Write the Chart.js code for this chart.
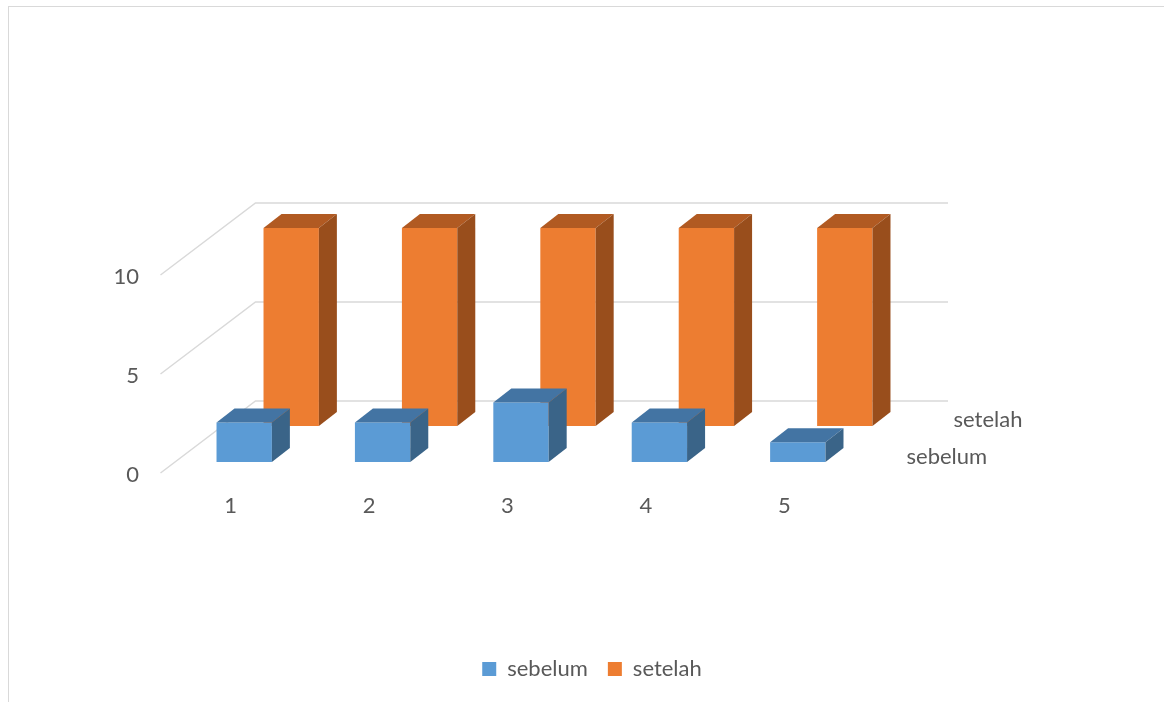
<!DOCTYPE html>
<html>
<head>
<meta charset="utf-8">
<title>sebelum / setelah</title>
<script src="https://cdn.jsdelivr.net/npm/chart.js@4.4.1/dist/chart.umd.min.js"></script>
<style>
  html, body { margin: 0; padding: 0; background: #fff; overflow: hidden; }
  #frame {
    position: absolute; left: 8px; top: 6px;
    width: 1200px; height: 740px;
    border: 1.5px solid #d9d9d9;
  }
  #wrap { position: absolute; left: 0; top: 0; width: 1164px; height: 702px; }
</style>
</head>
<body>
<div id="frame"></div>
<div id="wrap"><canvas id="chart" width="1164" height="702"></canvas></div>
<script>
const categories = ["1", "2", "3", "4", "5"];
const sebelum = [2, 2, 3, 2, 1];
const setelah = [10, 10, 10, 10, 10];
const yTicks = [0, 5, 10];

const FONT = "Lato, 'Open Sans', sans-serif";
const TEXT = "#595959";

// how far each series sits behind the front row (pixels)
const seriesShift = [
  { dx: 0, dy: 0 },
  { dx: 47, dy: -36 },
];
const faceDepth = { dx: 18, dy: -14 };   // depth of a single column
const floorFront = { dx: -14.5, dy: 11 }; // front edge of floor vs first row
const wallBack = { dx: 80.5, dy: -61 };   // back wall vs first row

const faceColors = [
  { top: "#4374a3", side: "#3a6488" },
  { top: "#b15a22", side: "#994e1c" },
];

const box3d = {
  id: "box3d",
  beforeDatasetsDraw(chart) {
    const { ctx, chartArea, scales } = chart;
    ctx.save();
    ctx.strokeStyle = "#d9d9d9";
    ctx.lineWidth = 1.5;
    yTicks.forEach((v) => {
      const yp = scales.y.getPixelForValue(v);
      const fx = chartArea.left + floorFront.dx;
      const fy = yp + floorFront.dy;
      const bx = chartArea.left + wallBack.dx;
      const by = yp + wallBack.dy;
      ctx.beginPath();
      ctx.moveTo(fx, fy);
      ctx.lineTo(bx, by);
      ctx.lineTo(chartArea.right + 81, by);
      ctx.stroke();
    });

    // series names along the depth axis
    const y0 = scales.y.getPixelForValue(0);
    ctx.fillStyle = TEXT;
    ctx.font = "22px " + FONT;
    ctx.textAlign = "left";
    ctx.textBaseline = "middle";
    chart.data.datasets.forEach((ds, i) => {
      const s = seriesShift[i];
      ctx.fillText(ds.label, chartArea.right + 39.5 + s.dx, y0 - 5 + s.dy * 1.03);
    });
    ctx.restore();
  },
  beforeDatasetDraw(chart, args) {
    const s = seriesShift[args.index];
    chart.ctx.save();
    chart.ctx.translate(s.dx, s.dy);
  },
  afterDatasetDraw(chart, args) {
    const ctx = chart.ctx;
    const c = faceColors[args.index];
    const { dx, dy } = faceDepth;
    args.meta.data.forEach((bar) => {
      const p = bar.getProps(["x", "y", "base", "width"], true);
      const l = p.x - p.width / 2;
      const r = p.x + p.width / 2;
      // top face
      ctx.fillStyle = c.top;
      ctx.beginPath();
      ctx.moveTo(l, p.y);
      ctx.lineTo(r, p.y);
      ctx.lineTo(r + dx, p.y + dy);
      ctx.lineTo(l + dx, p.y + dy);
      ctx.closePath();
      ctx.fill();
      // right side face
      ctx.fillStyle = c.side;
      ctx.beginPath();
      ctx.moveTo(r, p.y);
      ctx.lineTo(r, p.base);
      ctx.lineTo(r + dx, p.base + dy);
      ctx.lineTo(r + dx, p.y + dy);
      ctx.closePath();
      ctx.fill();
    });
    ctx.restore();
  },
};

new Chart(document.getElementById("chart"), {
  type: "bar",
  data: {
    labels: categories,
    datasets: [
      {
        label: "sebelum",
        data: sebelum,
        backgroundColor: "#5b9bd5",
      },
      {
        label: "setelah",
        data: setelah,
        backgroundColor: "#ed7d31",
      },
    ],
  },
  options: {
    responsive: false,
    animation: false,
    grouped: false,
    clip: false,
    barPercentage: 0.4,
    categoryPercentage: 1.0,
    layout: {
      padding: { top: 264, right: 0, bottom: 12, left: 20 },
    },
    scales: {
      x: {
        grid: { display: false, drawTicks: false },
        border: { display: false },
        ticks: {
          padding: 31,
          labelOffset: -13.5,
          color: TEXT,
          font: { family: FONT, size: 22 },
        },
        afterFit: (s) => { s.height = 176; },
      },
      y: {
        min: 0,
        max: 10,
        grid: { display: false, drawTicks: false },
        border: { display: false },
        ticks: {
          stepSize: 5,
          padding: 36,
          labelOffset: 13,
          color: TEXT,
          font: { family: FONT, size: 22 },
        },
        afterFit: (s) => { s.width = 155; },
      },
      // empty right-hand axis that keeps room for the depth labels
      side: {
        position: "right",
        min: 0,
        max: 10,
        grid: { display: false, drawTicks: false },
        border: { display: false },
        ticks: { display: false },
        afterFit: (s) => { s.width = 297; },
      },
    },
    plugins: {
      tooltip: { enabled: false },
      legend: {
        position: "bottom",
        labels: {
          boxWidth: 14,
          boxHeight: 14,
          padding: 20,
          color: TEXT,
          font: { family: FONT, size: 22 },
        },
      },
    },
  },
  plugins: [box3d],
});
</script>
</body>
</html>
